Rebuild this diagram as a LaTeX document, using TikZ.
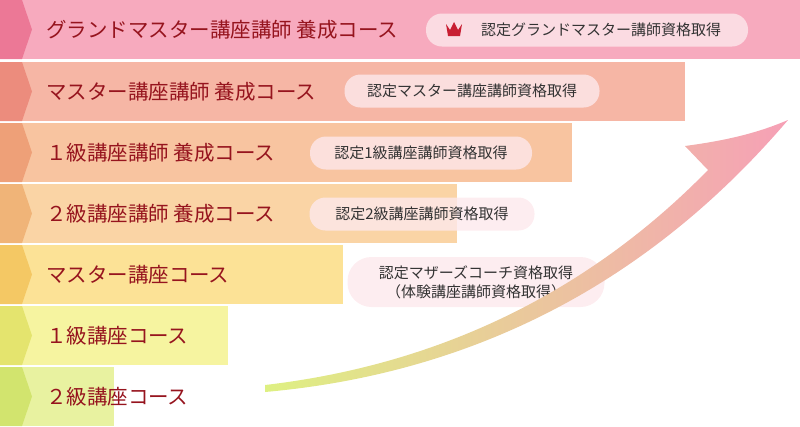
\documentclass[tikz,border=0pt]{standalone}
\usepackage{fontspec}
\setmainfont{Noto Sans CJK JP}
\usetikzlibrary{positioning}
\definecolor{txtred}{RGB}{150,20,30}
\definecolor{crownred}{RGB}{200,30,50}
\definecolor{pillcol}{RGB}{253,232,236}
\definecolor{tailcol}{RGB}{222,240,130}
\definecolor{headcol}{RGB}{246,160,182}
\begin{document}
\begin{tikzpicture}[x=1pt,y=-1pt]
\tikzset{every node/.style={inner sep=0pt, outer sep=0pt}}
\tikzset{bar/.style={anchor=north west, minimum height=59pt}}
\tikzset{course/.style={anchor=west, text=txtred, font=\fontsize{20.5}{20.5}\selectfont}}
\tikzset{pill/.style={fill=pillcol, fill opacity=.8, text opacity=1, rounded corners=16pt, text=black!80, font=\fontsize{15}{19}\selectfont, align=center, inner xsep=10pt, minimum height=33pt}}
\useasboundingbox (0,0) rectangle (800,426);
%%%%%% bars
\foreach \n/\y/\w/\c/\d in {a/0/800/{247,170,190}/{236,120,150},
  b/62/685/{246,182,165}/{236,140,125},
  c/123/572/{248,196,160}/{238,160,120},
  d/184/457/{250,212,165}/{240,180,120},
  e/245/343/{252,226,150}/{244,200,100},
  f/306/228/{246,244,160}/{228,228,110},
  g/367/114/{232,242,160}/{210,228,110}}{
  \definecolor{barcol}{RGB}{\c}\definecolor{tabcol}{RGB}{\d}
  \node(bar\n)at(0,\y)[bar,fill=barcol,minimum width=\w pt]{};
  \fill[tabcol] (0,\y) -- (22,\y) -- (32,\y+29.5) -- (22,\y+59) -- (0,\y+59) -- cycle;
}
%%%%%% courses
\node(ca)at(46,29.5)[course]{グランドマスター講座講師 養成コース};
\node(cb)at(46,91.5)[course]{マスター講座講師 養成コース};
\node(cc)at(46,152.5)[course]{１級講座講師 養成コース};
\node(cd)at(46,213.5)[course]{２級講座講師 養成コース};
\node(ce)at(46,274.5)[course]{マスター講座コース};
\node(cf)at(46,335.5)[course]{１級講座コース};
\node(cg)at(46,396.5)[course]{２級講座コース};
%%%%%% certificates
\node(pa)at(587,30)[pill,minimum width=322pt]{\hspace*{28pt}認定グランドマスター講師資格取得};
\fill[crownred] (446,24) -- (450,30) -- (454,22) -- (458,30) -- (462,24) -- (460,36) -- (448,36) -- cycle;
\node(pb)at(472,91)[pill,minimum width=255pt]{認定マスター講座講師資格取得};
\node(pc)at(421,153)[pill,minimum width=222pt]{認定1級講座講師資格取得};
\node(pd)at(422,214)[pill,minimum width=225pt]{認定2級講座講師資格取得};
\node(pe)at(476,282)[pill,minimum width=257pt,minimum height=50pt,rounded corners=24pt]{認定マザーズコーチ資格取得\\（体験講座講師資格取得）};
%%%%%% arrow
\shade[left color=tailcol, right color=headcol]
  (265,385) .. controls (480,360) and (620,260) .. (708,170)
  -- (685,146) .. controls (730,140) and (760,132) .. (788,120)
  .. controls (660,270) and (490,372) .. (265,392) -- cycle;
\end{tikzpicture}
\end{document}
